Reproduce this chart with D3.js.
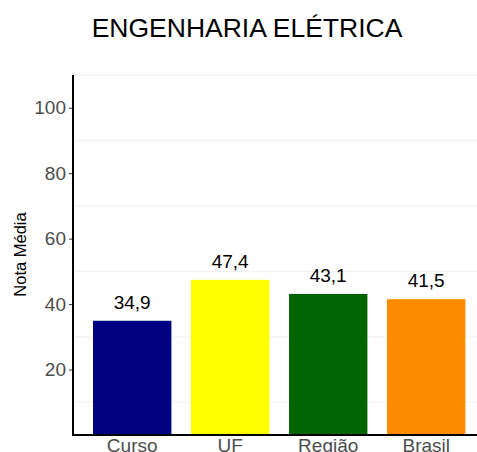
<!DOCTYPE html>
<html><head><meta charset="utf-8">
<script src="https://cdn.jsdelivr.net/npm/d3@7"></script>
<style>body{margin:0;background:#fff}svg{display:block;font-family:"Liberation Sans",Arial,sans-serif}</style>
</head><body><svg id="c" width="477" height="452"></svg>
<script>
const categories = ["Curso", "UF", "Região", "Brasil"];
const values = [34.9, 47.4, 43.1, 41.5];
const labels = ["34,9", "47,4", "43,1", "41,5"];
const colors = ["#000080", "#FFFF00", "#006400", "#FF8C00"];
const yTicks = [20, 40, 60, 80, 100];
const gridVals = [10, 30, 50, 70, 90, 110];
const title = "ENGENHARIA ELÉTRICA";
const yTitle = "Nota Média";

const svg = d3.select("#c");
const mLeft = 73, mBottom = 435, mTop = 75;
const y = d3.scaleLinear().domain([0, 110]).range([mBottom, mTop]);
const x = d3.scaleBand().domain(categories).range([mLeft, 485.4]).paddingInner(0.2).paddingOuter(0.204);

svg.append("g").selectAll("line").data(gridVals).join("line")
  .attr("x1", mLeft).attr("x2", 477).attr("y1", d => y(d)).attr("y2", d => y(d))
  .attr("stroke", "#f0f0f0").attr("stroke-width", 1);

svg.append("g").selectAll("rect").data(values).join("rect")
  .attr("x", (d, i) => x(categories[i])).attr("width", x.bandwidth())
  .attr("y", d => y(d)).attr("height", d => y(0) - y(d))
  .attr("fill", (d, i) => colors[i]);

svg.append("g").selectAll("text").data(values).join("text")
  .attr("x", (d, i) => x(categories[i]) + x.bandwidth() / 2)
  .attr("y", d => y(d) - 12)
  .attr("text-anchor", "middle").attr("font-size", 19).attr("fill", "#000")
  .text((d, i) => labels[i]);

const yAxis = svg.append("g").attr("transform", `translate(${mLeft},0)`)
  .call(d3.axisLeft(y).tickValues(yTicks).tickSize(4).tickPadding(3));
yAxis.select(".domain").remove();
yAxis.selectAll(".tick line").attr("stroke", "#333");
yAxis.selectAll(".tick text").attr("font-size", 19).attr("fill", "#4d4d4d").attr("font-family", "Liberation Sans, Arial, sans-serif");

const xAxis = svg.append("g").attr("transform", `translate(0,${mBottom})`)
  .call(d3.axisBottom(x).tickSize(0).tickPadding(3));
xAxis.select(".domain").remove();
xAxis.selectAll(".tick text").attr("font-size", 19).attr("fill", "#4d4d4d").attr("font-family", "Liberation Sans, Arial, sans-serif");

svg.append("line").attr("x1", mLeft).attr("x2", mLeft).attr("y1", mTop).attr("y2", mBottom + 1)
  .attr("stroke", "#000").attr("stroke-width", 2);
svg.append("line").attr("x1", mLeft - 1).attr("x2", 477).attr("y1", mBottom).attr("y2", mBottom)
  .attr("stroke", "#000").attr("stroke-width", 2);

svg.append("text").attr("transform", "translate(26,254.5) rotate(-90)")
  .attr("text-anchor", "middle").attr("font-size", 16.5).attr("fill", "#000").text(yTitle);

svg.append("text").attr("x", 247).attr("y", 37).attr("text-anchor", "middle")
  .attr("font-size", 26.5).attr("fill", "#000").text(title);
</script></body></html>
